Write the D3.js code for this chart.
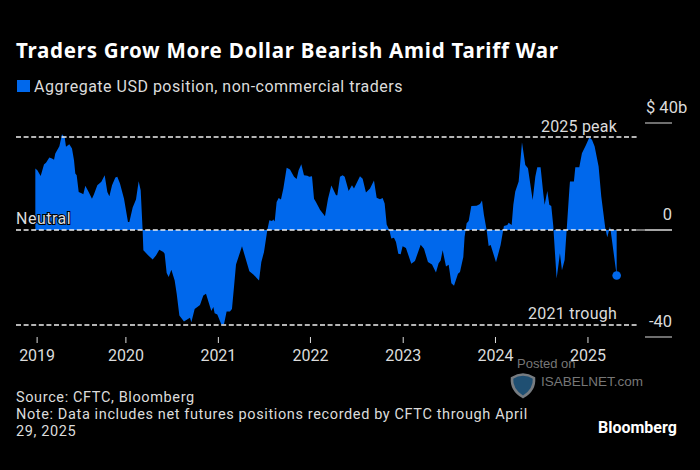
<!DOCTYPE html>
<html>
<head>
<meta charset="utf-8">
<script src="https://cdn.jsdelivr.net/npm/d3@7"></script>
<style>
  html, body { margin: 0; padding: 0; background: #000; }
  svg { display: block; }
  text { font-family: Roboto, sans-serif; fill: #dcdcdc; }
</style>
</head>
<body>
<div id="chart"></div>
<script>
// decimal years
const times = [
  2019.022,2019.044,2019.080,2019.116,2019.138,2019.174,2019.203,2019.225,2019.239,2019.283,
  2019.312,2019.341,2019.355,2019.391,2019.420,2019.442,2019.456,2019.471,2019.493,2019.529,
  2019.543,2019.565,2019.601,2019.637,2019.659,2019.695,2019.739,2019.775,2019.804,2019.826,
  2019.855,2019.891,2019.912,2019.941,2019.985,2020.028,2020.043,2020.079,2020.115,2020.144,
  2020.166,2020.187,2020.195,2020.249,2020.296,2020.332,2020.368,2020.412,2020.426,2020.448,
  2020.470,2020.499,2020.535,2020.557,2020.586,2020.636,2020.701,2020.716,2020.752,2020.810,
  2020.846,2020.875,2020.933,2020.955,2020.969,2020.998,2021.042,2021.071,2021.099,2021.135,
  2021.157,2021.179,2021.201,2021.266,2021.346,2021.389,2021.425,2021.451,2021.476,2021.505,
  2021.541,2021.563,2021.592,2021.606,2021.621,2021.642,2021.664,2021.689,2021.715,2021.751,
  2021.787,2021.831,2021.859,2021.881,2021.910,2021.939,2021.975,2021.997,2022.026,2022.048,
  2022.069,2022.113,2022.167,2022.200,2022.236,2022.287,2022.301,2022.330,2022.359,2022.381,
  2022.424,2022.460,2022.482,2022.547,2022.576,2022.612,2022.656,2022.699,2022.728,2022.764,
  2022.793,2022.815,2022.837,2022.866,2022.887,2022.916,2022.938,2022.963,2022.989,2023.010,
  2023.046,2023.104,2023.144,2023.206,2023.242,2023.285,2023.329,2023.372,2023.401,2023.423,
  2023.445,2023.481,2023.510,2023.539,2023.568,2023.611,2023.633,2023.669,2023.683,2023.705,
  2023.727,2023.756,2023.814,2023.850,2023.872,2023.893,2023.922,2023.944,2023.966,2024.024,
  2024.074,2024.096,2024.110,2024.147,2024.161,2024.194,2024.212,2024.233,2024.270,2024.306,
  2024.342,2024.371,2024.422,2024.451,2024.472,2024.508,2024.537,2024.552,2024.581,2024.603,
  2024.624,2024.646,2024.653,2024.682,2024.704,2024.718,2024.740,2024.769,2024.791,2024.820,
  2024.827,2024.870,2024.885,2024.928,2024.957,2025.001,2025.037,2025.066,2025.095,2025.138,
  2025.167,2025.211,2025.232,2025.261,2025.268,2025.334
];
// USD billions
const positions = [
  23.0,22.3,20.2,24.5,25.1,27.1,26.7,26.3,28.6,31.3,
  35.8,34.6,31.1,32.1,30.5,26.1,21.1,20.5,14.2,13.6,
  13.4,16.5,14.2,11.7,13.4,16.7,18.0,20.5,14.2,12.6,
  16.7,19.6,19.9,17.4,11.7,3.0,3.0,8.4,11.4,18.2,
  14.9,0,-7.6,-9.5,-11.0,-9.5,-7.4,-8.2,-8.9,-16.1,
  -17.6,-14.9,-18.9,-23.8,-32.0,-34.2,-32.8,-34.5,-29.5,-28.0,
  -24.5,-23.8,-30.3,-28.8,-31.1,-31.6,-35.3,-35.1,-30.5,-30.5,
  -29.5,-21.3,-12.9,-6.1,-15.4,-16.6,-17.9,-18.9,-12.0,-8.2,
  0,3.6,3.4,3.9,3.2,10.5,12.0,11.4,15.5,23.3,
  22.6,19.9,19.1,22.3,24.6,20.5,20.3,19.9,20.1,11.7,
  10.5,7.6,5.1,11.7,16.6,13.0,13.0,19.9,20.5,19.9,
  14.6,16.7,15.5,20.1,19.2,14.0,15.5,18.5,12.1,11.5,
  12.0,9.9,2.1,-0.1,-3.2,-2.9,-4.5,-8.9,-9.1,-6.1,
  -6.7,-12.6,-11.6,-5.5,-7.0,-12.0,-12.9,-15.9,-12.4,-11.4,
  -7.6,-13.6,-13.0,-19.9,-20.8,-16.4,-15.7,-10.1,-2.5,2.5,
  3.4,9.0,9.1,9.7,11.0,5.6,0,-6.0,-5.6,-12.1,
  -5.6,-1.2,1.5,1.9,2.7,1.9,9.4,14.4,18.1,32.8,
  24.3,23.1,11.2,20.0,23.5,23.5,13.7,9.4,14.6,9.4,
  9.0,1.5,-2.5,-18.1,-12.5,-8.7,-15.0,-11.2,0,15.0,
  18.1,18.1,23.5,23.5,28.7,31.8,34.6,33.7,31.2,23.7,
  12.5,0.6,-2.7,1.2,0,-17.0
];
const tickTimes = [2019.036, 2020, 2021.004, 2022.004, 2023.011, 2024.013, 2025.017];
const tickLabels = ["2019", "2020", "2021", "2022", "2023", "2024", "2025"];
const yTicks = [40, 0, -40];
const yTickLabels = ["$ 40b", "0", "-40"];
const refValues = [34.8, 0, -35.5];
const refLabels = ["2025 peak", "Neutral", "2021 trough"];

const blue = "#0068ec";
const svg = d3.select("#chart").append("svg").attr("width", 700).attr("height", 470);
svg.append("rect").attr("width", 700).attr("height", 470).attr("fill", "#000");

const x = d3.scaleLinear().domain([2020, 2025]).range([125.4, 585.9]);
const y = d3.scaleLinear().domain([-40, 40]).range([337, 123]);

// header
svg.append("text").attr("x", 16).attr("y", 58)
    .style("font-family", "\"Noto Sans\", sans-serif")
    .style("font-size", "20.5px").style("font-weight", "700").style("fill", "#fff")
    .style("letter-spacing", "0.75px")
    .text("Traders Grow More Dollar Bearish Amid Tariff War");
svg.append("rect").attr("x", 17).attr("y", 80).attr("width", 13).attr("height", 12).attr("fill", blue);
svg.append("text").attr("x", 34).attr("y", 92)
    .style("font-size", "16px").style("letter-spacing", "0.5px")
    .text("Aggregate USD position, non-commercial traders");

// area
const data = times.map((t, i) => ({t, v: positions[i]}));
const area = d3.area().x(d => x(d.t)).y0(y(0)).y1(d => y(d.v));
svg.append("path").datum(data).attr("d", area).attr("fill", blue);

const last = data[data.length - 1];
svg.append("circle").attr("cx", x(last.t)).attr("cy", y(last.v)).attr("r", 4.3).attr("fill", blue);

// y ticks on the right
const yAxis = svg.append("g");
yAxis.selectAll("line").data(yTicks).join("line")
    .attr("x1", 645).attr("x2", 672)
    .attr("y1", d => y(d)).attr("y2", d => y(d))
    .attr("stroke", "#dcdcdc").attr("stroke-width", 1);
yAxis.append("text").attr("x", 646).attr("y", 113).style("font-size", "16.5px").text(yTickLabels[0]);
yAxis.append("text").attr("x", 672).attr("y", 220).attr("text-anchor", "end").style("font-size", "16.5px").text(yTickLabels[1]);
yAxis.append("text").attr("x", 672).attr("y", 327).attr("text-anchor", "end").style("font-size", "16.5px").text(yTickLabels[2]);

// zero line continues solid to the axis
svg.append("line").attr("x1", 637).attr("x2", 672).attr("y1", y(0)).attr("y2", y(0))
    .attr("stroke", "#dcdcdc").attr("stroke-width", 1);

// dashed reference lines
svg.selectAll(".ref").data(refValues).join("line")
    .attr("class", "ref")
    .attr("x1", 16).attr("x2", 637)
    .attr("y1", d => y(d)).attr("y2", d => y(d))
    .attr("stroke", "#f0f0f0").attr("stroke-width", 1.5)
    .attr("stroke-dasharray", "5,2.6");

svg.append("text").attr("x", 617).attr("y", 132).attr("text-anchor", "end")
    .style("font-size", "16px").style("letter-spacing", "0.2px").text(refLabels[0]);
svg.append("text").attr("x", 617).attr("y", 319).attr("text-anchor", "end")
    .style("font-size", "16px").style("letter-spacing", "0.25px").text(refLabels[2]);
svg.append("text").attr("x", 16).attr("y", 224)
    .style("font-size", "16px").style("letter-spacing", "0.5px")
    .style("paint-order", "stroke").style("stroke", "#000").style("stroke-width", "2px")
    .text(refLabels[1]);

// x axis
const xAxis = svg.append("g")
    .attr("transform", "translate(0,337)")
    .call(d3.axisBottom(x).tickValues(tickTimes).tickFormat((d, i) => tickLabels[i]).tickSize(6).tickPadding(7));
xAxis.select(".domain").remove();
xAxis.selectAll("line").attr("stroke", "#dcdcdc");
xAxis.selectAll("text").style("font-size", "16px").style("font-family", "Roboto, sans-serif").attr("fill", "#dcdcdc");

// footer
const footLines = [
  "Source: CFTC, Bloomberg",
  "Note: Data includes net futures positions recorded by CFTC through April",
  "29, 2025"
];
svg.selectAll(".foot").data(footLines).join("text")
    .attr("class", "foot")
    .attr("x", 16).attr("y", (d, i) => 402 + i * 17)
    .style("font-size", "14.5px").style("letter-spacing", "0.62px")
    .text(d => d);
svg.append("text").attr("x", 598).attr("y", 433)
    .style("font-size", "16px").style("font-weight", "700").style("fill", "#fff")
    .text("Bloomberg");

// watermark
const mark = svg.append("g");
mark.append("text").attr("x", 517).attr("y", 368)
    .style("font-family", "\"Liberation Sans\", sans-serif").style("font-size", "13px").style("fill", "#777")
    .text("Posted on");
mark.append("text").attr("x", 541).attr("y", 386)
    .style("font-family", "\"Liberation Sans\", sans-serif").style("font-size", "13.5px").style("fill", "#777")
    .text("ISABELNET.com");
mark.append("path")
    .attr("d", "M512,378 Q523,371 534,378 Q535,390 523,397 Q511,390 512,378 Z")
    .attr("fill", "#1f4f72").attr("stroke", "#777c81").attr("stroke-width", 2.5);
</script>
</body>
</html>
